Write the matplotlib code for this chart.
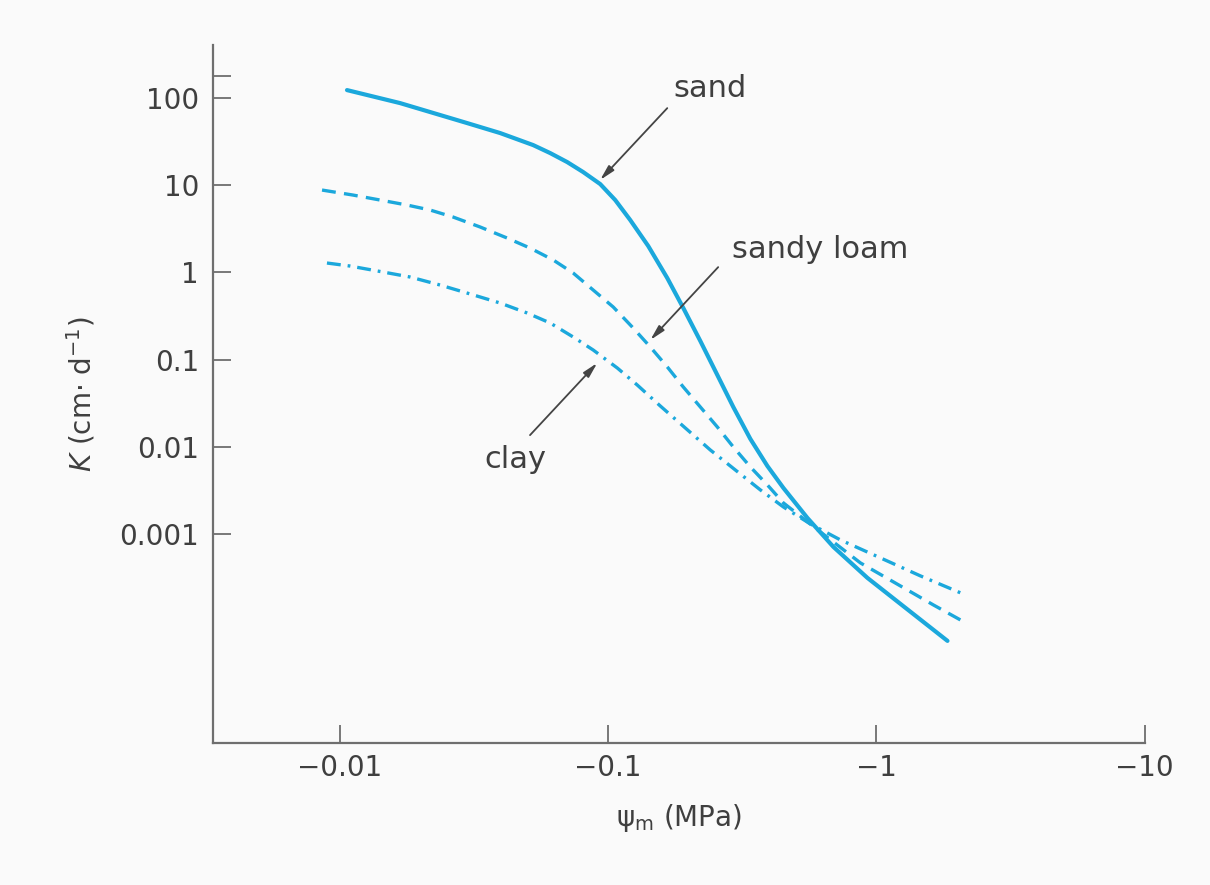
import matplotlib.pyplot as plt
import numpy as np

# --- Data (|psi_m| in MPa, K in cm/d) ---
sand_psi = [0.01062, 0.01675, 0.02977, 0.03955, 0.05250, 0.06075, 0.07031, 0.08066,
            0.09335, 0.1062, 0.1208, 0.1410, 0.1660, 0.1905, 0.2205, 0.2551, 0.2926,
            0.3388, 0.3920, 0.4498, 0.5528, 0.6911, 0.9256, 1.229, 1.840]
sand_k = [123.5, 87.6, 51.7, 39.7, 28.9, 23.4, 18.45, 14.17,
          10.32, 6.766, 3.990, 2.008, 0.8625, 0.3907, 0.1634, 0.06661, 0.02860,
          0.01229, 0.006024, 0.003370, 0.001526, 0.000710, 0.000313, 0.0001575, 5.93e-5]

loam_psi = [0.00857, 0.01118, 0.01410, 0.01778, 0.02167, 0.02640, 0.03330, 0.04199,
            0.05117, 0.06234, 0.07403, 0.08790, 0.1044, 0.1229, 0.1435, 0.1661,
            0.1905, 0.2205, 0.2551, 0.2926, 0.3388, 0.3921, 0.4498, 0.6180,
            0.8716, 1.229, 1.632, 2.058]
loam_k = [8.81, 7.72, 6.77, 5.93, 5.20, 4.32, 3.32, 2.48,
          1.90, 1.39, 0.984, 0.628, 0.401, 0.2365, 0.1395, 0.0823,
          0.0485, 0.0286, 0.01688, 0.00995, 0.00587, 0.00365, 0.00227, 0.001054,
          0.000465, 0.000253, 0.000153, 0.000103]

clay_psi = [0.00894, 0.01090, 0.01447, 0.01825, 0.02361, 0.02977, 0.03954, 0.04985,
            0.06075, 0.07403, 0.08790, 0.1081, 0.1283, 0.1563, 0.1938, 0.2402,
            0.2977, 0.3691, 0.4498, 0.5672, 0.7337, 1.035, 1.459, 2.058]
clay_k = [1.282, 1.184, 1.011, 0.886, 0.717, 0.580, 0.4457, 0.3423,
          0.2629, 0.1816, 0.1288, 0.0801, 0.0511, 0.0294, 0.01643, 0.00919,
          0.00542, 0.00320, 0.00204, 0.001302, 0.000854, 0.000531, 0.000330, 0.000211]

x_ticks = [0.01, 0.1, 1, 10]
x_labels = ['\u22120.01', '\u22120.1', '\u22121', '\u221210']
y_ticks = [180, 100, 10, 1, 0.1, 0.01, 0.001]
y_labels = ['', '100', '10', '1', '0.1', '0.01', '0.001']

line_col = '#1ba8dc'
axis_col = '#6e6e6e'
text_col = '#3f3f3f'

plt.rcParams['lines.scale_dashes'] = False

fig = plt.figure(figsize=(12.1, 8.85), dpi=100, facecolor='#fafafa')
ax = fig.add_axes([0.176, 0.1605, 0.77, 0.7885])
ax.set_facecolor('#fafafa')

ax.plot(sand_psi, sand_k, color=line_col, lw=3.0, solid_capstyle='round',
        solid_joinstyle='round')
ax.plot(loam_psi, loam_k, color=line_col, lw=2.4, dashes=(10, 6))
ax.plot(clay_psi, clay_k, color=line_col, lw=2.4, dashes=(10, 5, 2, 5))

ax.set_xscale('log')
ax.set_yscale('log')
ax.set_xlim(0.00336, 10)
ax.set_ylim(4e-6, 405)

ax.set_xticks(x_ticks)
ax.set_xticklabels(x_labels)
ax.set_yticks(y_ticks)
ax.set_yticklabels(y_labels)
ax.minorticks_off()

for side in ['top', 'right']:
    ax.spines[side].set_visible(False)
for side in ['left', 'bottom']:
    ax.spines[side].set_color(axis_col)
    ax.spines[side].set_linewidth(1.6)

ax.tick_params(axis='both', direction='in', length=13, width=1.3,
               color=axis_col, labelcolor=text_col, labelsize=20)
ax.tick_params(axis='y', pad=10)
ax.tick_params(axis='x', pad=8)

ax.set_xlabel('\u03c8$_\\mathrm{m}$ (MPa)', fontsize=20, color=text_col, labelpad=14)
ax.set_ylabel('$K$ (cm\u00b7 d$^{-1}$)', fontsize=20, color=text_col, labelpad=16)

# --- Curve labels with arrows ---
arrow = dict(arrowstyle='-|>,head_length=0.9,head_width=0.22', color='#444444',
             lw=1.3, shrinkA=0, shrinkB=0)
ax.annotate('', xy=(0.0933, 11.5), xytext=(0.166, 76.7), arrowprops=arrow)
ax.annotate('', xy=(0.1436, 0.168), xytext=(0.257, 1.15), arrowprops=arrow)
ax.annotate('', xy=(0.091, 0.0914), xytext=(0.0511, 0.0136), arrowprops=arrow)

ax.text(0.240, 130, 'sand', fontsize=22, color=text_col, ha='center', va='center')
ax.text(0.618, 1.81, 'sandy loam', fontsize=22, color=text_col, ha='center', va='center')
ax.text(0.045, 0.00707, 'clay', fontsize=22, color=text_col, ha='center', va='center')

plt.savefig('out.png', dpi=100, facecolor=fig.get_facecolor())
